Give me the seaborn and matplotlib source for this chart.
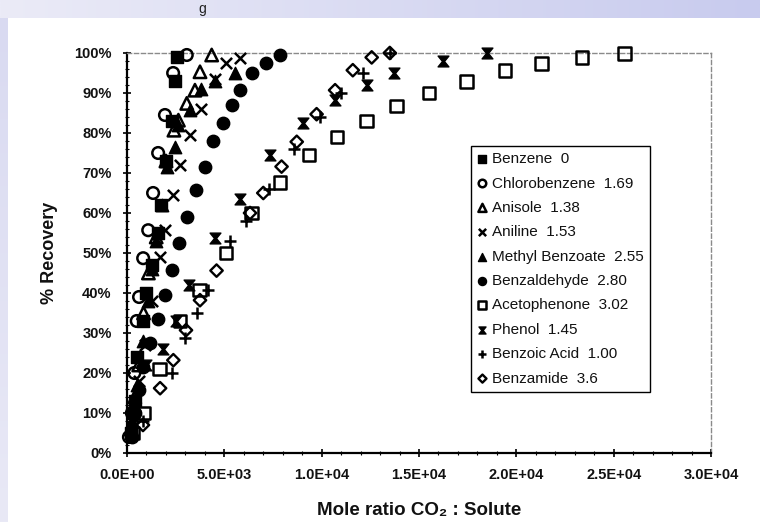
import numpy as np
import pandas as pd
import matplotlib

matplotlib.use("Agg")
import matplotlib.pyplot as plt  # noqa: E402
from matplotlib.path import Path  # noqa: E402
from matplotlib.colors import LinearSegmentedColormap  # noqa: E402
from matplotlib.ticker import MultipleLocator, FuncFormatter  # noqa: E402
import seaborn as sns  # noqa: E402

# --- data (mole ratio CO2 : solute, % recovery) ---
benzene_x = [200, 300, 400, 500, 800, 1000, 1300, 1600, 1750, 2000, 2300, 2450, 2550]
benzene_y = [5, 10, 13, 24, 33, 40, 47, 55, 62, 73, 83, 93, 99]

chlorobenzene_x = [100, 250, 380, 500, 620, 830, 1090, 1340, 1600, 1950, 2370, 3070]
chlorobenzene_y = [4, 10, 20, 33, 39, 48.7, 55.7, 65, 75, 84.5, 95, 99.5]

anisole_x = [200, 400, 600, 850, 1100, 1500, 2000, 2410, 2640, 3070, 3490, 3750, 4350]
anisole_y = [6, 14, 22, 35, 45, 54, 73, 80.7, 83.2, 87.4, 90.7, 95.3, 99.5]

aniline_x = [300, 600, 900, 1300, 1700, 1950, 2360, 2720, 3240, 3800, 4520, 5090, 5800]
aniline_y = [9, 18, 27, 38, 49, 55.7, 64.5, 72, 79.5, 86, 93.4, 97.6, 98.7]

methylbenzoate_x = [250, 500, 800, 1100, 1300, 1500, 1800, 2040, 2470, 2620, 3240, 3800, 4520, 5550]
methylbenzoate_y = [8, 17, 28, 38, 46, 53, 62, 71.6, 76.6, 82, 85.7, 91, 93, 95]

benzaldehyde_x = [250, 400, 620, 820, 1180, 1610, 1950, 2295, 2670, 3100, 3540, 4000,
                  4435, 4915, 5380, 5800, 6430, 7125, 7860]
benzaldehyde_y = [4, 10, 15.7, 21.6, 27.5, 33.4, 39.5, 45.7, 52.6, 59, 65.7, 71.6,
                  78, 82.6, 87, 90.7, 95, 97.6, 99.5]

acetophenone_x = [300, 840, 1660, 2720, 3715, 5085, 6400, 7860, 9350, 10800, 12310,
                  13850, 15520, 17450, 19420, 21300, 23360, 25550]
acetophenone_y = [5, 10, 21, 33, 40.7, 50, 60, 67.6, 74.5, 79, 83,
                  86.7, 90, 92.9, 95.6, 97.4, 98.9, 99.9]

phenol_x = [400, 1000, 1850, 2500, 3200, 4520, 5800, 7350, 9060, 10690, 12310, 13720, 16250, 18480]
phenol_y = [12, 22, 26, 33, 42, 53.7, 63.4, 74.5, 82.4, 88.2, 92, 95, 98, 100]

benzoicacid_x = [800, 2300, 2980, 3580, 4180, 5300, 6100, 7300, 8600, 9900, 11000, 12120, 13500]
benzoicacid_y = [8, 20, 28.7, 35, 40.7, 53, 58, 66, 76, 84, 90, 95, 100]

benzamide_x = [820, 1700, 2380, 3030, 3750, 4600, 6320, 7000, 7940, 8720, 9740, 10690,
               11600, 12570, 13500]
benzamide_y = [7, 16.2, 23.2, 30.7, 38.2, 45.6, 60, 65, 71.6, 77.8, 84.7, 90.7,
               95.7, 98.9, 100]

labels = ["Benzene  0", "Chlorobenzene  1.69", "Anisole  1.38", "Aniline  1.53",
          "Methyl Benzoate  2.55", "Benzaldehyde  2.80", "Acetophenone  3.02",
          "Phenol  1.45", "Benzoic Acid  1.00", "Benzamide  3.6"]

xs = [benzene_x, chlorobenzene_x, anisole_x, aniline_x, methylbenzoate_x,
      benzaldehyde_x, acetophenone_x, phenol_x, benzoicacid_x, benzamide_x]
ys = [benzene_y, chlorobenzene_y, anisole_y, aniline_y, methylbenzoate_y,
      benzaldehyde_y, acetophenone_y, phenol_y, benzoicacid_y, benzamide_y]

# hourglass marker for phenol
hourglass = Path([(-1, 1), (1, 1), (0.18, 0), (1, -1), (-1, -1), (-0.18, 0), (-1, 1)],
                 [Path.MOVETO] + [Path.LINETO] * 5 + [Path.CLOSEPOLY])

# marker, open?, size, linewidth
styles = [
    ("s", False, 65, 1.0),
    ("o", True, 70, 1.8),
    ("^", True, 80, 1.8),
    ("x", False, 65, 1.8),
    ("^", False, 80, 1.0),
    ("o", False, 80, 1.0),
    ("s", True, 80, 1.8),
    (hourglass, False, 60, 1.0),
    ("+", False, 80, 1.8),
    ("D", True, 40, 1.7),
]

sns.set_theme(style="white")
plt.rcParams["font.family"] = ["Liberation Sans", "DejaVu Sans"]

fig = plt.figure(figsize=(7.6, 5.22), dpi=100)
fig.patch.set_facecolor("white")

# slide background strips
top = fig.add_axes([0, 1 - 18 / 522, 1, 18 / 522])
grad = np.linspace(0, 1, 256).reshape(1, -1)
top.imshow(grad, aspect="auto", cmap=LinearSegmentedColormap.from_list("lav", ["#ebebf7", "#c8cbee"]))
top.axis("off")
left = fig.add_axes([0, 0, 8 / 760, 1 - 18 / 522])
left.imshow(np.linspace(0, 1, 256).reshape(-1, 1), aspect="auto",
            cmap=LinearSegmentedColormap.from_list("lav2", ["#d9daf1", "#e9e9f6"]))
left.axis("off")
fig.text(202 / 760, 1 - 13 / 522, "g", fontsize=10, color="#222222", ha="center", va="baseline")

ax = fig.add_axes([127 / 760, 1 - 453 / 522, 584 / 760, 400 / 522])
ax.set_facecolor("white")

for x, y, lab, (m, is_open, s, lw) in zip(xs, ys, labels, styles):
    df = pd.DataFrame({"x": x, "y": y})
    sns.scatterplot(data=df, x="x", y="y", ax=ax, marker=m, s=s, color="black",
                    linewidth=lw, label=lab, zorder=3, clip_on=False)
    coll = ax.collections[-1]
    coll.set_edgecolor("black")
    if is_open:
        coll.set_facecolor("none")
    coll.set_linewidth(lw)

ax.set_xlim(0, 30000)
ax.set_ylim(0, 100)
ax.xaxis.set_major_locator(MultipleLocator(5000))
ax.xaxis.set_minor_locator(MultipleLocator(1000))
ax.yaxis.set_major_locator(MultipleLocator(10))
ax.yaxis.set_minor_locator(MultipleLocator(2))
ax.xaxis.set_major_formatter(FuncFormatter(lambda v, p: f"{v:.1E}"))
ax.yaxis.set_major_formatter(FuncFormatter(lambda v, p: f"{v:.0f}%"))

ax.tick_params(axis="both", which="major", direction="inout", length=6, width=1.2,
               colors="black", labelsize=10.5, pad=8, bottom=True, left=True)
ax.tick_params(axis="both", which="minor", direction="inout", length=3, width=0.8,
               colors="black", bottom=True, left=True)
for lbl in ax.get_xticklabels() + ax.get_yticklabels():
    lbl.set_fontweight("bold")
    lbl.set_color("#111111")

for side in ("left", "bottom"):
    ax.spines[side].set_color("black")
    ax.spines[side].set_linewidth(1.6)
for side in ("top", "right"):
    ax.spines[side].set_color("#8a8a8a")
    ax.spines[side].set_linewidth(1.0)
    ax.spines[side].set_linestyle((0, (3, 2)))

ax.set_xlabel("Mole ratio CO\u2082 : Solute", fontsize=13.5, fontweight="bold",
              color="#111111", labelpad=14)
ax.set_ylabel("% Recovery", fontsize=13, fontweight="bold", color="#111111", labelpad=12)

leg = ax.legend(loc="upper left", bbox_to_anchor=(471 / 760, 1 - 146 / 522),
                bbox_transform=fig.transFigure, fontsize=11, frameon=True,
                fancybox=False, framealpha=1, edgecolor="black", borderpad=0.4,
                labelspacing=0.68, handlelength=0.7, handletextpad=0.3,
                markerscale=0.65, borderaxespad=0)
leg.get_frame().set_linewidth(1.0)
for t in leg.get_texts():
    t.set_color("#111111")

fig.savefig("out.png", dpi=100)
